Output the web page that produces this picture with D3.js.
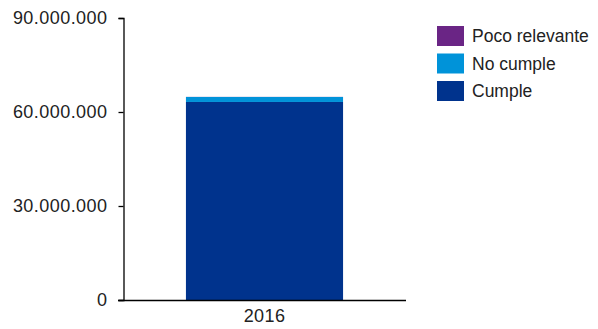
<!DOCTYPE html>
<html><head><meta charset="utf-8">
<script src="https://cdn.jsdelivr.net/npm/d3@7"></script>
<style>body{margin:0;background:#fff}svg{display:block}text{font-family:"Liberation Sans",Arial,sans-serif}</style>
</head><body><svg id="c" width="598" height="329"></svg>
<script>
const categories = ["2016"];
const seriesNames = ["Cumple", "No cumple", "Poco relevante"];
const cumple = [63200000];
const noCumple = [1600000];
const pocoRelevante = [30000];
const yTicks = [0, 30000000, 60000000, 90000000];
const colors = ["#00338D", "#0093D9", "#6A2585"];

const svg = d3.select("#c");
const x = d3.scaleBand().domain(categories).range([123, 406]).paddingInner(0.286).paddingOuter(0.286);
const y = d3.scaleLinear().domain([0, 90000000]).range([300, 18]);

const rows = categories.map((c, i) => ({cat: c, "Cumple": cumple[i], "No cumple": noCumple[i], "Poco relevante": pocoRelevante[i]}));
const stacked = d3.stack().keys(seriesNames)(rows);

svg.append("g").selectAll("g").data(stacked).join("g")
  .attr("fill", (d, i) => colors[i])
  .selectAll("rect").data(d => d).join("rect")
  .attr("x", d => x(d.data.cat))
  .attr("width", x.bandwidth())
  .attr("y", d => y(d[1]))
  .attr("height", d => y(d[0]) - y(d[1]));

const fmt = v => d3.format(",")(v).replace(/,/g, ".");
const yAxis = svg.append("g").attr("transform", "translate(123.5,0)")
  .call(d3.axisLeft(y).tickValues(yTicks).tickFormat(fmt).tickSizeOuter(0).tickSize(5).tickPadding(11));
yAxis.select(".domain").attr("stroke", "#000").attr("stroke-width", 1.3);
yAxis.selectAll(".tick line").attr("stroke", "#000").attr("stroke-width", 1.3);
yAxis.selectAll("text").attr("font-size", 18).attr("letter-spacing", "0.45px").attr("fill", "#222").attr("font-family", "Liberation Sans, Arial, sans-serif");

const xAxis = svg.append("g").attr("transform", "translate(0,300.5)")
  .call(d3.axisBottom(x).tickSize(0).tickPadding(9));
xAxis.select(".domain").attr("d", "M118,0H406").attr("stroke", "#000").attr("stroke-width", 1.3);
xAxis.selectAll("text").attr("font-size", 18).attr("letter-spacing", "0.4px").attr("fill", "#222").attr("font-family", "Liberation Sans, Arial, sans-serif");

const legendItems = ["Poco relevante", "No cumple", "Cumple"];
const legendColors = [colors[2], colors[1], colors[0]];
const lg = svg.append("g");
legendItems.forEach((name, i) => {
  const yy = 26 + i * 27.5;
  lg.append("rect").attr("x", 437).attr("y", yy).attr("width", 27).attr("height", 20).attr("fill", legendColors[i]);
  lg.append("text").attr("x", 472).attr("y", yy + 10).attr("dy", "0.35em")
    .attr("font-size", 17.5).attr("fill", "#222").text(name);
});
</script></body></html>
